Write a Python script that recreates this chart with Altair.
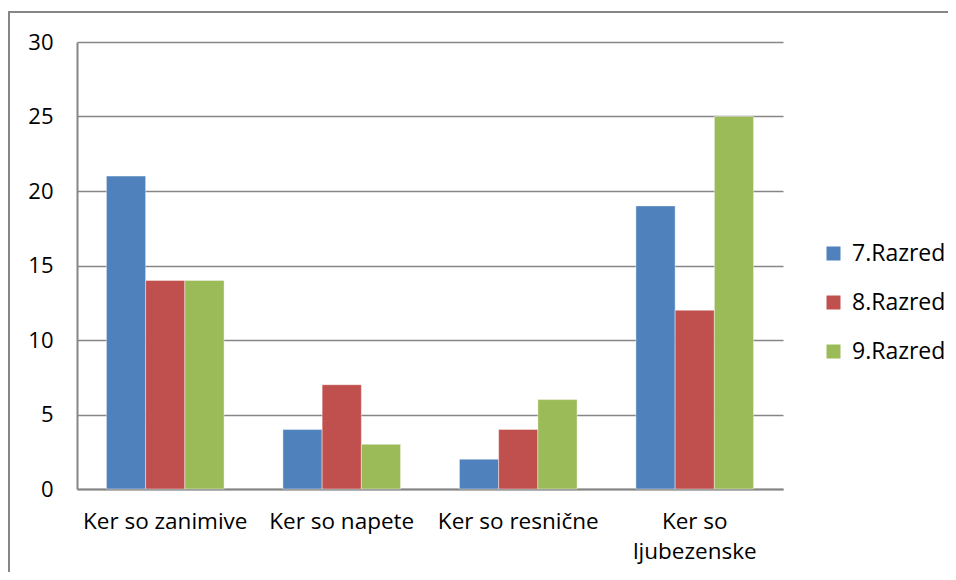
import altair as alt
import pandas as pd

categories = ["Ker so zanimive", "Ker so napete", "Ker so resnične", "Ker so ljubezenske"]
series = ["7.Razred", "8.Razred", "9.Razred"]
values_7 = [21, 4, 2, 19]
values_8 = [14, 7, 4, 12]
values_9 = [14, 3, 6, 25]
colors = ["#4F81BD", "#C0504D", "#9BBB59"]
y_ticks = [0, 5, 10, 15, 20, 25, 30]

rows = []
for s, vals in zip(series, [values_7, values_8, values_9]):
    for c, v in zip(categories, vals):
        rows.append({"kategorija": c, "razred": s, "vrednost": v})
df = pd.DataFrame(rows)

FONT = "Open Sans"
FS = 22
W, H = 706, 447
GRAY = "#868686"

bars = alt.Chart(df).mark_bar(stroke="white", strokeWidth=0.6, strokeOpacity=0.7).encode(
    x=alt.X(
        "kategorija:N",
        sort=categories,
        scale=alt.Scale(paddingInner=1 / 3, paddingOuter=1 / 6),
        axis=alt.Axis(
            title=None, labelAngle=0, labelFontSize=22.5, labelFont=FONT, labelColor="black",
            labelPadding=21, domainColor=GRAY, domainWidth=2, ticks=False,
            labelLimit=400, labelOverlap=False, labelBaseline="top", labelLineHeight=30,
            labelExpr="datum.label == 'Ker so ljubezenske' ? ['Ker so', 'ljubezenske'] : datum.label",
        ),
    ),
    xOffset=alt.XOffset("razred:N", sort=series),
    y=alt.Y(
        "vrednost:Q",
        scale=alt.Scale(domain=[0, 30]),
        axis=alt.Axis(
            values=y_ticks, title=None, labelFontSize=FS, labelFont=FONT, labelColor="black",
            labelPadding=24, ticks=False, domainColor=GRAY, domainWidth=2,
            grid=True, gridColor=GRAY, gridWidth=1.3,
        ),
    ),
    color=alt.Color(
        "razred:N",
        sort=series,
        scale=alt.Scale(domain=series, range=colors),
        legend=alt.Legend(
            title=None, orient="none", legendX=745, legendY=200, symbolType="square",
            symbolSize=196, symbolStrokeWidth=0, labelFontSize=23, labelFont=FONT,
            labelColor="black", rowPadding=25, labelOffset=7,
        ),
    ),
)

one = alt.Data(values=[{"a": 1}])
frame = alt.Chart(one).mark_rect(fill=None, stroke=GRAY, strokeWidth=2, clip=False).encode(
    x=alt.value(-68), x2=alt.value(W + 300), y=alt.value(-30), y2=alt.value(H + 200)
)

chart = alt.layer(bars, frame).properties(
    width=W, height=H,
    autosize=alt.AutoSizeParams(type="none"),
    padding={"left": 69, "top": 34, "right": 165, "bottom": 83},
).configure_view(stroke=None)

chart.save("out.html", embed_options={"renderer": "svg", "actions": False})
